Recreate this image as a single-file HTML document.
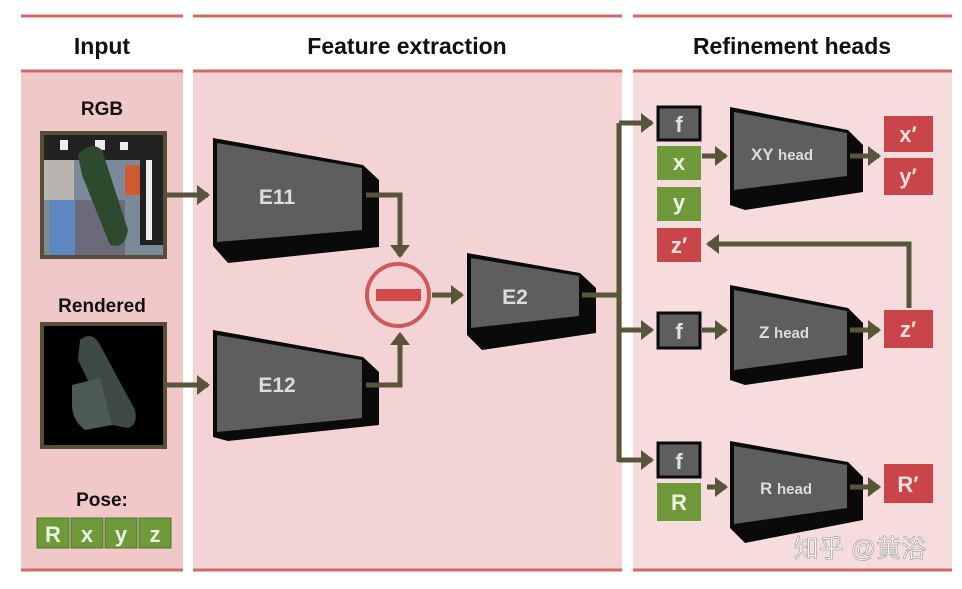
<!DOCTYPE html>
<html><head><meta charset="utf-8"><style>
html,body{margin:0;padding:0;background:#fff}
svg{display:block}
text{font-family:"Liberation Sans","Noto Sans CJK SC",sans-serif}
</style></head><body>
<svg width="962" height="589" viewBox="0 0 962 589" xmlns="http://www.w3.org/2000/svg">
<defs>
<marker id="a" markerWidth="4" markerHeight="4" refX="2.2" refY="2" orient="auto" markerUnits="strokeWidth"><path d="M0,0 L2.6,2 L0,4 z" fill="#57553a"/></marker>
</defs>
<!-- panels -->
<rect x="21" y="71" width="162" height="499" fill="#f0c8c8"/>
<rect x="193" y="71" width="429" height="499" fill="#f3d3d3"/>
<rect x="633" y="71" width="319" height="499" fill="#f6dcdc"/>
<g stroke="#d06a6a" stroke-width="3">
<line x1="21" y1="16" x2="183" y2="16"/><line x1="193" y1="16" x2="622" y2="16"/><line x1="633" y1="16" x2="952" y2="16"/>
<line x1="21" y1="71" x2="183" y2="71"/><line x1="193" y1="71" x2="622" y2="71"/><line x1="633" y1="71" x2="952" y2="71"/>
<line x1="21" y1="570" x2="183" y2="570"/><line x1="193" y1="570" x2="622" y2="570"/><line x1="633" y1="570" x2="952" y2="570"/>
</g>
<g font-weight="bold" font-size="23" text-anchor="middle" fill="#111">
<text x="102" y="54">Input</text><text x="407" y="54">Feature extraction</text><text x="792" y="54">Refinement heads</text>
</g>
<g font-weight="bold" font-size="19" text-anchor="middle" fill="#111">
<text x="102" y="115">RGB</text><text x="102" y="312">Rendered</text><text x="102" y="506">Pose:</text>
</g>
<!-- RGB image -->
<rect x="40" y="131" width="127" height="128" fill="#564e36"/>
<rect x="44" y="135" width="119" height="120" fill="#7a8a9a"/>
<rect x="44" y="135" width="119" height="25" fill="#222"/>
<rect x="140" y="135" width="23" height="110" fill="#222"/>
<rect x="146" y="160" width="6" height="80" fill="#eee"/>
<rect x="60" y="140" width="8" height="10" fill="#eee"/><rect x="95" y="140" width="10" height="10" fill="#eee"/><rect x="120" y="142" width="8" height="8" fill="#eee"/>
<rect x="44" y="160" width="30" height="40" fill="#b8b4b0"/>
<rect x="50" y="200" width="30" height="55" fill="#5d88c0"/>
<rect x="125" y="165" width="15" height="30" fill="#d05a30"/>
<rect x="75" y="200" width="50" height="55" fill="#6a6a7a"/>
<path d="M78,155 Q90,140 102,150 L128,230 Q125,250 110,245 L82,175 z" fill="#2e4a2e"/>
<!-- Rendered image -->
<rect x="40" y="322" width="127" height="127" fill="#564e36"/>
<rect x="44" y="326" width="119" height="119" fill="#000"/>
<path d="M80,340 Q92,330 100,345 L135,410 Q138,425 128,428 L112,425 L95,395 L78,360 z" fill="#3d4a44"/>
<path d="M72,385 L100,378 L112,425 L85,430 Q72,420 72,405 z" fill="#4c5a54"/>
<!-- pose boxes -->
<g font-weight="bold" font-size="22" text-anchor="middle" fill="#eaf2e0">
<rect x="37" y="518" width="32" height="30" fill="#6e9a3a" stroke="#4e7428"/><text x="53" y="542">R</text>
<rect x="71" y="518" width="32" height="30" fill="#6e9a3a" stroke="#4e7428"/><text x="87" y="542">x</text>
<rect x="105" y="518" width="32" height="30" fill="#6e9a3a" stroke="#4e7428"/><text x="121" y="542">y</text>
<rect x="139" y="518" width="32" height="30" fill="#6e9a3a" stroke="#4e7428"/><text x="155" y="542">z</text>
</g>
<!-- blocks -->
<g>
<polygon points="213,138 363,165 379,180 379,247 228,263 213,246" fill="#0a0a0a"/>
<polygon points="217,143 362,168 362,230 217,242" fill="#5e5e5e"/>
<polygon points="213,330 363,357 379,372 379,425 228,441 213,437" fill="#0a0a0a"/>
<polygon points="217,335 362,360 362,418 217,432" fill="#5e5e5e"/>
<polygon points="467,253 580,273 596,288 596,333 482,350 467,335" fill="#0a0a0a"/>
<polygon points="471,258 579,276 579,316 471,328" fill="#5e5e5e"/>
<polygon points="730,107 848,130 863,145 863,192 745,210 730,205" fill="#0a0a0a"/>
<polygon points="734,112 847,133 847,176 734,190" fill="#5e5e5e"/>
<polygon points="730,285 848,308 863,323 863,368 745,385 730,380" fill="#0a0a0a"/>
<polygon points="734,290 847,311 847,355 734,370" fill="#5e5e5e"/>
<polygon points="730,441 848,462 863,477 863,520 745,543 730,528" fill="#0a0a0a"/>
<polygon points="734,446 847,465 847,508 734,524" fill="#5e5e5e"/>
</g>
<g fill="#dcdcdc" font-weight="bold" text-anchor="middle">
<text x="277" y="204" font-size="21">E11</text>
<text x="277" y="392" font-size="21">E12</text>
<text x="515" y="304" font-size="21">E2</text>
<text x="782" y="160" font-size="17">XY <tspan font-size="15">head</tspan></text>
<text x="784" y="338" font-size="17">Z <tspan font-size="15">head</tspan></text>
<text x="786" y="494" font-size="17">R <tspan font-size="15">head</tspan></text>
</g>
<!-- arrows -->
<g stroke="#57553a" stroke-width="5" fill="none">
<line x1="167" y1="195" x2="208" y2="195" marker-end="url(#a)"/>
<line x1="167" y1="385" x2="208" y2="385" marker-end="url(#a)"/>
<polyline points="366,195 400,195 400,256" marker-end="url(#a)"/>
<polyline points="366,385 400,385 400,334" marker-end="url(#a)"/>
<line x1="432" y1="295" x2="462" y2="295" marker-end="url(#a)"/>
<polyline points="582,295 619,295"/>
<line x1="619" y1="123" x2="619" y2="462"/>
<line x1="619" y1="123" x2="652" y2="123" marker-end="url(#a)"/>
<line x1="619" y1="330" x2="652" y2="330" marker-end="url(#a)"/>
<line x1="619" y1="460" x2="652" y2="460" marker-end="url(#a)"/>
<line x1="702" y1="156" x2="726" y2="156" marker-end="url(#a)"/>
<line x1="702" y1="330" x2="726" y2="330" marker-end="url(#a)"/>
<line x1="707" y1="487" x2="726" y2="487" marker-end="url(#a)"/>
<line x1="850" y1="156" x2="879" y2="156" marker-end="url(#a)"/>
<line x1="850" y1="330" x2="879" y2="330" marker-end="url(#a)"/>
<line x1="850" y1="487" x2="879" y2="487" marker-end="url(#a)"/>
<polyline points="909,308 909,244 708,244" marker-end="url(#a)"/>
</g>
<!-- minus circle -->
<circle cx="398" cy="295" r="31" fill="#f3d3d3" stroke="#cf5a5a" stroke-width="4"/>
<rect x="376" y="289" width="45" height="12" fill="#d44a4a"/>
<!-- small boxes -->
<g font-weight="bold" font-size="22" text-anchor="middle">
<rect x="658" y="107" width="42" height="33" fill="#5e5e5e" stroke="#0a0a0a" stroke-width="3"/><text x="679" y="132" fill="#e0e0e0">f</text>
<rect x="657" y="146" width="44" height="34" fill="#6e9a3a"/><text x="679" y="170" fill="#eaf2e0">x</text>
<rect x="657" y="187" width="44" height="34" fill="#6e9a3a"/><text x="679" y="210" fill="#eaf2e0">y</text>
<rect x="657" y="228" width="44" height="34" fill="#c9454a"/><text x="679" y="253" fill="#f3dede">z′</text>
<rect x="658" y="313" width="42" height="35" fill="#5e5e5e" stroke="#0a0a0a" stroke-width="3"/><text x="679" y="339" fill="#e0e0e0">f</text>
<rect x="658" y="443" width="42" height="34" fill="#5e5e5e" stroke="#0a0a0a" stroke-width="3"/><text x="679" y="469" fill="#e0e0e0">f</text>
<rect x="657" y="483" width="44" height="38" fill="#6e9a3a"/><text x="679" y="510" fill="#eaf2e0">R</text>
<rect x="884" y="116" width="49" height="36" fill="#c9454a"/><text x="908" y="142" fill="#f3dede">x′</text>
<rect x="884" y="158" width="49" height="37" fill="#c9454a"/><text x="908" y="184" fill="#f3dede">y′</text>
<rect x="884" y="310" width="49" height="38" fill="#c9454a"/><text x="908" y="337" fill="#f3dede">z′</text>
<rect x="884" y="464" width="49" height="39" fill="#c9454a"/><text x="908" y="492" fill="#f3dede">R′</text>
</g>
<text x="860" y="557" text-anchor="middle" font-size="25" fill="#fafafa" stroke="#999" stroke-width="0.6">知乎 @黄浴</text>
</svg>
</body></html>
